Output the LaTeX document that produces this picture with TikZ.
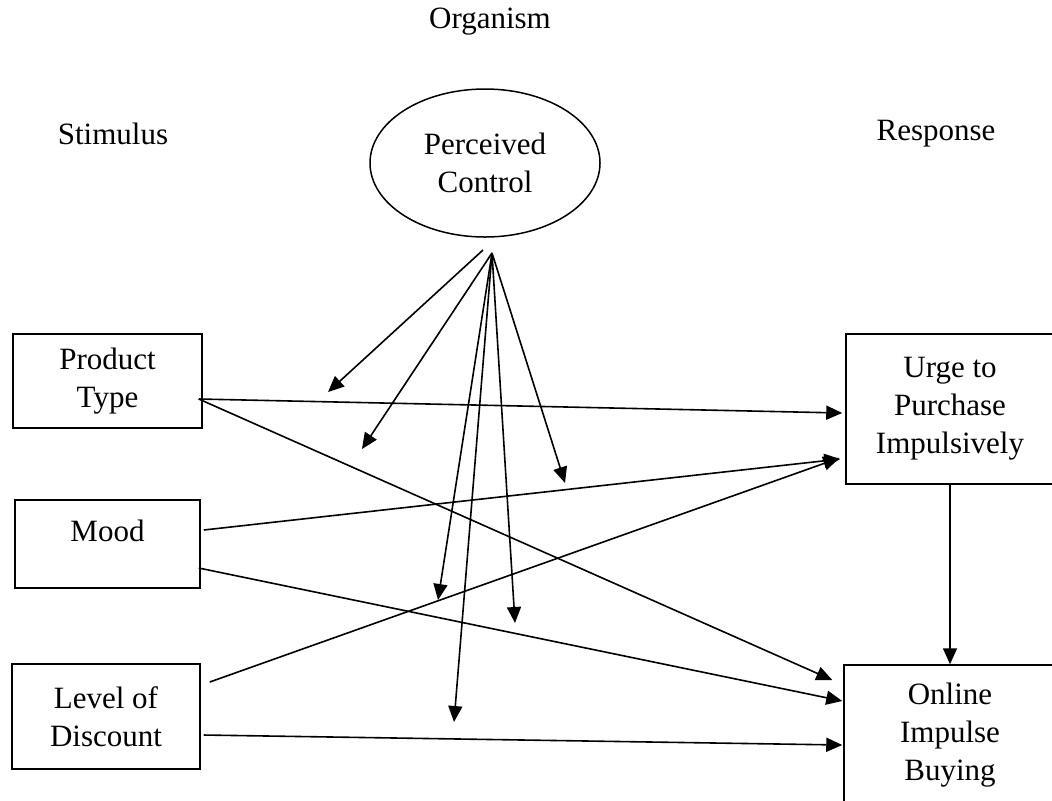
\documentclass[tikz,border=0pt]{standalone}
\usepackage{fontspec}
\setmainfont{Liberation Serif}
\usepackage{tikz}
\usetikzlibrary{calc,shapes.geometric,arrows.meta}
\tikzset{
    varbox/.style={draw, line width=0.75pt, align=center, inner sep=0pt,
        font=\fontsize{15.5}{19}\selectfont},
    heading/.style={font=\fontsize{15.5}{19}\selectfont},
    arr/.style={line width=0.8pt, -{Triangle[length=8pt,width=7pt]}},
}

\begin{document}
\begin{tikzpicture}[x=0.5pt,y=0.5pt,yscale=-1,xscale=1]
		\useasboundingbox (0,0) rectangle (1052,800);
		
		% Headings
		\node [heading] (organism) at (490,22) {Organism};
		\node [heading] (stimulus) at (113,134) {Stimulus};
		\node [heading] (response) at (936,134) {Response};
		
		% Moderator
		\node [varbox, ellipse, minimum width=115pt, minimum height=74pt] (pc) at (485,163) {Perceived\\Control};
		
		% Stimulus boxes
		\node [varbox, minimum width=94.5pt, minimum height=47pt] (pt) at (107.5,381) {Product\\Type};
		\node [varbox, minimum width=92.5pt, minimum height=44pt] (mood) at (107.5,544) {Mood\\[-11pt]\strut};
		\node [varbox, minimum width=94pt, minimum height=52.5pt] (lod) at (106,716.5) {Level of\\Discount};
		
		% Response boxes
		\node [varbox, minimum width=104pt, minimum height=75pt] (urge) at (950,409) {Urge to\\Purchase\\Impulsively};
		\node [varbox, minimum width=106pt, minimum height=70pt] (oib) at (950,735) {Online\\Impulse\\Buying};
		
		% Stimulus -> response
		\draw [arr] ($(pt.east)+(-4,18)$) -- ($(urge.west)+(-3,4)$);
		\draw [arr] ($(pt.east)+(-4,18)$) -- ($(oib.west)+(-11,-55)$);
		\draw [arr] ($(mood.east)+(3,-14)$) -- ($(urge.west)+(-5,50)$);
		\draw [arr] ($(mood.east)+(-2,24)$) -- ($(oib.west)+(-1,-34)$);
		\draw [arr] ($(lod.east)+(9,-34.5)$) -- ($(urge.west)+(-6,49)$);
		\draw [arr] ($(lod.east)+(3,18.5)$) -- ($(oib.west)+(-1,10)$);
		\draw [arr] (urge.south) -- (oib.north);
		
		% Moderating arrows
		\coordinate (src) at (492,253);
		\draw [arr] ($(src)+(-9,-3)$) -- (328,392);
		\foreach \tx/\ty in {362/449, 565/483, 438/600, 515/623, 454/722}
		\draw [arr] (src) -- (\tx,\ty);
		
\end{tikzpicture}
\end{document}
